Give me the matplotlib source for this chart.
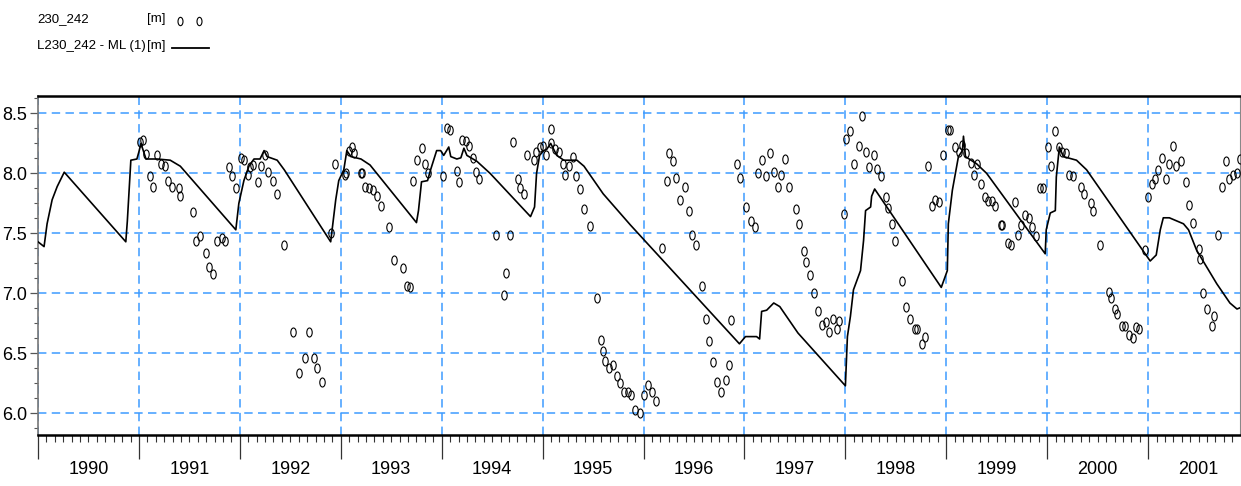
import matplotlib
matplotlib.use('Agg')
import matplotlib.pyplot as plt
import numpy as np
from matplotlib import font_manager
from matplotlib.lines import Line2D
from matplotlib.path import Path
from matplotlib.ticker import FixedLocator

# observed heads 230_242 (decimal year, m)
obsYear = [1991.01, 1991.04, 1991.07, 1991.18, 1991.22, 1991.26, 1991.11, 1991.14, 1991.29, 1991.33,
           1991.40, 1991.41, 1991.54, 1991.57, 1991.61, 1991.66, 1991.69, 1991.73, 1991.77, 1991.82,
           1991.85, 1991.89, 1991.92, 1991.96, 1992.01, 1992.04, 1992.08, 1992.10, 1992.13, 1992.18,
           1992.21, 1992.25, 1992.28, 1992.33, 1992.37, 1992.44, 1992.53, 1992.69, 1992.65, 1992.73,
           1992.59, 1992.76, 1992.81, 1992.90, 1992.94, 1993.04, 1993.05, 1993.08, 1993.11, 1993.13,
           1993.20, 1993.21, 1993.24, 1993.28, 1993.32, 1993.36, 1993.40, 1993.48, 1993.53, 1993.62,
           1993.66, 1993.69, 1993.72, 1993.76, 1993.80, 1993.83, 1993.86, 1994.01, 1994.05, 1994.08,
           1994.15, 1994.17, 1994.20, 1994.24, 1994.27, 1994.31, 1994.34, 1994.37, 1994.54, 1994.68,
           1994.64, 1994.62, 1994.71, 1994.76, 1994.78, 1994.82, 1994.85, 1994.91, 1994.93, 1994.97,
           1995.00, 1995.03, 1995.08, 1995.08, 1995.12, 1995.16, 1995.20, 1995.22, 1995.26, 1995.30,
           1995.33, 1995.37, 1995.41, 1995.47, 1995.54, 1995.58, 1995.60, 1995.62, 1995.66, 1995.70,
           1995.74, 1995.77, 1995.81, 1995.85, 1995.88, 1995.92, 1995.96, 1996.00, 1996.04, 1996.08,
           1996.12, 1996.18, 1996.25, 1996.29, 1996.23, 1996.32, 1996.41, 1996.36, 1996.45, 1996.48,
           1996.52, 1996.58, 1996.62, 1996.65, 1996.69, 1996.73, 1996.77, 1996.82, 1996.85, 1996.87,
           1996.93, 1996.96, 1997.02, 1997.06, 1997.10, 1997.13, 1997.17, 1997.21, 1997.25, 1997.29,
           1997.33, 1997.36, 1997.40, 1997.44, 1997.51, 1997.54, 1997.59, 1997.61, 1997.65, 1997.69,
           1997.73, 1997.77, 1997.81, 1997.84, 1997.88, 1997.92, 1997.94, 1997.99, 1998.01, 1998.05,
           1998.09, 1998.16, 1998.13, 1998.20, 1998.23, 1998.28, 1998.31, 1998.35, 1998.40, 1998.42,
           1998.46, 1998.49, 1998.56, 1998.60, 1998.64, 1998.69, 1998.71, 1998.76, 1998.79, 1998.82,
           1998.86, 1998.89, 1998.93, 1998.97, 1999.02, 1999.04, 1999.09, 1999.13, 1999.16, 1999.20,
           1999.24, 1999.30, 1999.27, 1999.34, 1999.38, 1999.41, 1999.45, 1999.48, 1999.54, 1999.55,
           1999.61, 1999.64, 1999.68, 1999.71, 1999.74, 1999.78, 1999.82, 1999.85, 1999.89, 1999.93,
           1999.96, 2000.01, 2000.04, 2000.08, 2000.12, 2000.15, 2000.19, 2000.22, 2000.26, 2000.33,
           2000.36, 2000.43, 2000.45, 2000.52, 2000.61, 2000.63, 2000.67, 2000.69, 2000.74, 2000.77,
           2000.81, 2000.85, 2000.88, 2000.91, 2000.97, 2001.00, 2001.04, 2001.07, 2001.10, 2001.14,
           2001.18, 2001.21, 2001.25, 2001.28, 2001.33, 2001.37, 2001.40, 2001.44, 2001.50, 2001.51,
           2001.54, 2001.58, 2001.65, 2001.63, 2001.69, 2001.73, 2001.77, 2001.80, 2001.84, 2001.88,
           2001.91]
obsLevel = [8.26, 8.28, 8.16, 8.15, 8.08, 8.06, 7.98, 7.89, 7.94, 7.89,
            7.88, 7.81, 7.68, 7.44, 7.48, 7.34, 7.22, 7.16, 7.44, 7.46,
            7.44, 8.05, 7.98, 7.88, 8.13, 8.11, 7.99, 8.05, 8.07, 7.93,
            8.06, 8.15, 8.01, 7.94, 7.83, 7.40, 6.68, 6.68, 6.46, 6.46,
            6.34, 6.38, 6.26, 7.50, 8.08, 7.99, 8.00, 8.19, 8.22, 8.17,
            8.00, 8.00, 7.89, 7.88, 7.86, 7.81, 7.73, 7.55, 7.28, 7.21,
            7.06, 7.05, 7.94, 8.11, 8.21, 8.08, 8.00, 7.98, 8.38, 8.36,
            8.02, 7.93, 8.28, 8.27, 8.23, 8.13, 8.01, 7.95, 7.49, 7.49,
            7.17, 6.99, 8.26, 7.95, 7.88, 7.83, 8.15, 8.11, 8.18, 8.22,
            8.23, 8.15, 8.25, 8.37, 8.20, 8.18, 8.08, 7.99, 8.06, 8.14,
            7.98, 7.87, 7.70, 7.56, 6.96, 6.61, 6.52, 6.44, 6.38, 6.40,
            6.31, 6.25, 6.18, 6.18, 6.15, 6.03, 6.00, 6.15, 6.24, 6.18,
            6.10, 7.38, 8.17, 8.10, 7.94, 7.96, 7.89, 7.78, 7.69, 7.49,
            7.40, 7.06, 6.79, 6.60, 6.43, 6.26, 6.18, 6.28, 6.40, 6.78,
            8.08, 7.96, 7.72, 7.60, 7.55, 8.00, 8.11, 7.98, 8.17, 8.01,
            7.89, 7.99, 8.12, 7.89, 7.70, 7.58, 7.35, 7.26, 7.15, 7.00,
            6.85, 6.74, 6.76, 6.68, 6.79, 6.70, 6.77, 7.66, 8.29, 8.35,
            8.08, 8.48, 8.23, 8.18, 8.05, 8.15, 8.04, 7.98, 7.80, 7.71,
            7.58, 7.44, 7.10, 6.89, 6.79, 6.70, 6.70, 6.58, 6.64, 8.06,
            7.73, 7.78, 7.76, 8.15, 8.36, 8.36, 8.22, 8.18, 8.24, 8.17,
            8.09, 8.08, 7.99, 7.91, 7.80, 7.77, 7.77, 7.73, 7.57, 7.57,
            7.42, 7.40, 7.76, 7.49, 7.57, 7.65, 7.63, 7.55, 7.48, 7.88,
            7.88, 8.22, 8.06, 8.35, 8.22, 8.18, 8.17, 7.99, 7.98, 7.89,
            7.83, 7.75, 7.69, 7.40, 7.01, 6.96, 6.87, 6.83, 6.73, 6.73,
            6.65, 6.63, 6.72, 6.70, 7.36, 7.80, 7.91, 7.95, 8.03, 8.13,
            7.95, 8.08, 8.23, 8.06, 8.10, 7.93, 7.74, 7.59, 7.37, 7.29,
            7.00, 6.87, 6.81, 6.73, 7.49, 7.89, 8.10, 7.95, 7.99, 8.00,
            8.12]

# computed heads L230_242 - ML (1)
modelYear = [1990.00, 1990.06, 1990.09, 1990.14, 1990.19, 1990.26, 1990.87, 1990.885, 1990.92, 1990.98,
             1991.00, 1991.02, 1991.07, 1991.18, 1991.31, 1991.41, 1991.96, 1991.99, 1992.04, 1992.09,
             1992.14, 1992.20, 1992.24, 1992.27, 1992.37, 1992.44, 1992.90, 1992.95, 1992.98, 1993.03,
             1993.06, 1993.10, 1993.20, 1993.29, 1993.75, 1993.77, 1993.80, 1993.86, 1993.89, 1993.95,
             1993.99, 1994.02, 1994.07, 1994.09, 1994.15, 1994.19, 1994.22, 1994.25, 1994.35, 1994.48,
             1994.88, 1994.92, 1994.94, 1994.97, 1995.01, 1995.04, 1995.08, 1995.14, 1995.21, 1995.34,
             1995.41, 1995.60, 1995.87, 1996.95, 1997.01, 1997.12, 1997.15, 1997.17, 1997.22, 1997.29,
             1997.35, 1997.53, 1998.00, 1998.02, 1998.05, 1998.08, 1998.15, 1998.18, 1998.20, 1998.25,
             1998.26, 1998.29, 1998.95, 1999.01, 1999.02, 1999.06, 1999.09, 1999.12, 1999.16, 1999.17,
             1999.19, 1999.30, 1999.40, 1999.98, 1999.99, 2000.03, 2000.08, 2000.09, 2000.12, 2000.16,
             2000.29, 2000.39, 2001.02, 2001.08, 2001.12, 2001.15, 2001.21, 2001.35, 2001.40, 2001.48,
             2001.68, 2001.81, 2001.88, 2001.91]
modelLevel = [7.43, 7.39, 7.58, 7.78, 7.89, 8.01, 7.43, 7.60, 8.11, 8.12,
              8.18, 8.25, 8.12, 8.12, 8.11, 8.06, 7.53, 7.75, 7.94, 8.06,
              8.12, 8.12, 8.19, 8.14, 8.11, 8.03, 7.43, 7.78, 7.94, 8.03,
              8.19, 8.14, 8.12, 8.07, 7.59, 7.69, 7.93, 7.94, 8.03, 8.19,
              8.19, 8.15, 8.22, 8.14, 8.12, 8.13, 8.21, 8.15, 8.10, 8.00,
              7.64, 7.72, 8.00, 8.15, 8.19, 8.20, 8.25, 8.15, 8.11, 8.11,
              8.06, 7.83, 7.57, 6.58, 6.64, 6.64, 6.62, 6.85, 6.86, 6.92,
              6.89, 6.67, 6.23, 6.64, 6.81, 7.03, 7.19, 7.44, 7.69, 7.72,
              7.81, 7.87, 7.05, 7.19, 7.58, 7.86, 8.00, 8.14, 8.19, 8.31,
              8.14, 8.08, 8.00, 7.33, 7.53, 7.67, 7.69, 7.97, 8.22, 8.14,
              8.11, 8.03, 7.27, 7.32, 7.53, 7.63, 7.63, 7.58, 7.53, 7.36,
              7.08, 6.92, 6.87, 6.88]

yearLabels = [str(y) for y in range(1990, 2002)]
levelTicks = [6.0, 6.5, 7.0, 7.5, 8.0, 8.5]


def pickFont():
    names = set(f.name for f in font_manager.fontManager.ttflist)
    if 'Liberation Sans Narrow' in names:
        return ['Liberation Sans Narrow', 'DejaVu Sans']
    return ['Liberation Sans', 'DejaVu Sans']


def ellipseMarker():
    circle = Path.unit_circle()
    verts = circle.vertices * np.array([0.6, 1.0])
    return Path(verts, circle.codes)


def main():
    plt.rcParams['font.family'] = pickFont()
    gridBlue = '#3d9bff'
    marker = ellipseMarker()

    fig = plt.figure(figsize=(12.41, 4.86), dpi=100)
    ax = fig.add_axes([38 / 1241, 51 / 486, 1202 / 1241, 339 / 486])

    ax.plot(obsYear, obsLevel, linestyle='None', marker=marker, markersize=6.5,
            markerfacecolor='none', markeredgecolor='black', markeredgewidth=0.8, zorder=3)
    ax.plot(modelYear, modelLevel, color='black', linewidth=1.2, zorder=4)

    ax.set_xlim(1990.0, 2001.91)
    ax.set_ylim(5.82, 8.645)

    # x axis: long ticks at year boundaries, short monthly ticks, labels mid-year
    yearEdges = np.arange(1990, 2002)
    ax.xaxis.set_major_locator(FixedLocator(yearEdges))
    ax.xaxis.set_minor_locator(FixedLocator(np.arange(1990, 2002, 1 / 12)))
    ax.set_xticklabels([])
    ax.tick_params(axis='x', which='major', length=17, width=0.9, color='#333333', direction='out')
    ax.tick_params(axis='x', which='minor', length=5, width=0.8, color='#333333', direction='out')
    for yr, lab in zip(yearEdges, yearLabels):
        ax.text(yr + 0.5, -0.103, lab, transform=ax.get_xaxis_transform(),
                ha='center', va='center', fontsize=13)

    ax.yaxis.set_major_locator(FixedLocator(levelTicks))
    ax.yaxis.set_minor_locator(FixedLocator(np.arange(5.875, 8.7, 0.125)))
    ax.set_yticklabels(['%.1f' % t for t in levelTicks], fontsize=13)
    ax.tick_params(axis='y', which='major', length=6, width=0.9, color='#555555', pad=2)
    ax.tick_params(axis='y', which='minor', length=3, width=0.8, color='#555555')

    ax.grid(True, which='major', color=gridBlue, linestyle=(0, (5.5, 3.5)), linewidth=1.1)
    ax.set_axisbelow(True)

    ax.spines['top'].set_linewidth(1.8)
    ax.spines['bottom'].set_linewidth(1.8)
    ax.spines['left'].set_linewidth(1.2)
    ax.spines['left'].set_color('#777777')
    ax.spines['right'].set_linewidth(0.8)
    ax.spines['right'].set_color('#888888')

    # legend block top-left
    legSize = 9.5
    fig.text(37 / 1241, 1 - 19 / 486, '230_242', va='center', fontsize=legSize)
    fig.text(147 / 1241, 1 - 19 / 486, '[m]', va='center', fontsize=legSize)
    fig.add_artist(Line2D([180 / 1241, 199 / 1241], [1 - 21 / 486, 1 - 21 / 486], transform=fig.transFigure,
                          linestyle='None', marker=marker, markersize=6, markerfacecolor='none',
                          markeredgecolor='black', markeredgewidth=0.8))
    fig.text(37 / 1241, 1 - 46 / 486, 'L230_242 - ML (1)', va='center', fontsize=legSize)
    fig.text(147 / 1241, 1 - 46 / 486, '[m]', va='center', fontsize=legSize)
    fig.add_artist(Line2D([172 / 1241, 209 / 1241], [1 - 48 / 486, 1 - 48 / 486], transform=fig.transFigure,
                          color='black', linewidth=1.3))

    fig.savefig('out.png', dpi=100)


main()
